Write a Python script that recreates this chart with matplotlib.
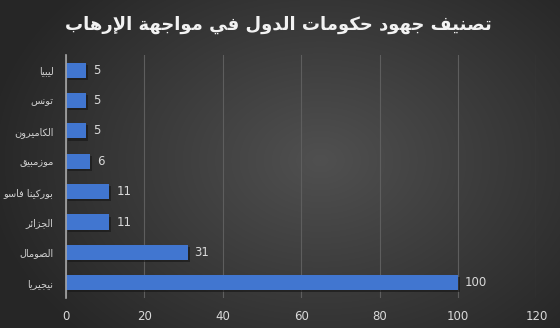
import numpy as np
import matplotlib
matplotlib.use("Agg")
import matplotlib.pyplot as plt
import matplotlib.patheffects as pe

# data, top to bottom as in the picture
countries = ["ليبيا", "تونس", "الكاميرون", "موزمبيق", "بوركينا فاسو", "الجزائر", "الصومال", "نيجيريا"]
scores = [5, 5, 5, 6, 11, 11, 31, 100]
title = "تصنيف جهود حكومات الدول في مواجهة الإرهاب"
xticks = [0, 20, 40, 60, 80, 100, 120]

# matplotlib has no arabic shaping, so pick presentation forms by hand
DUAL = {'ئ': 0xFE89, 'ب': 0xFE8F, 'ت': 0xFE95, 'ث': 0xFE99, 'ج': 0xFE9D, 'ح': 0xFEA1,
        'خ': 0xFEA5, 'س': 0xFEB1, 'ش': 0xFEB5, 'ص': 0xFEB9, 'ض': 0xFEBD, 'ط': 0xFEC1,
        'ظ': 0xFEC5, 'ع': 0xFEC9, 'غ': 0xFECD, 'ف': 0xFED1, 'ق': 0xFED5, 'ك': 0xFED9,
        'ل': 0xFEDD, 'م': 0xFEE1, 'ن': 0xFEE5, 'ه': 0xFEE9, 'ي': 0xFEF1}
RIGHT = {'آ': 0xFE81, 'أ': 0xFE83, 'ؤ': 0xFE85, 'إ': 0xFE87, 'ا': 0xFE8D, 'ة': 0xFE93,
         'د': 0xFEA9, 'ذ': 0xFEAB, 'ر': 0xFEAD, 'ز': 0xFEAF, 'و': 0xFEED, 'ى': 0xFEEF}
LAMALEF = {'آ': 0xFEF5, 'أ': 0xFEF7, 'إ': 0xFEF9, 'ا': 0xFEFB}


def shape(text):
    units = []
    i = 0
    while i < len(text):
        c = text[i]
        if c == 'ل' and i + 1 < len(text) and text[i + 1] in LAMALEF:
            units.append((LAMALEF[text[i + 1]], 'R'))
            i += 2
            continue
        if c in DUAL:
            units.append((DUAL[c], 'D'))
        elif c in RIGHT:
            units.append((RIGHT[c], 'R'))
        else:
            units.append((c, None))
        i += 1
    out = []
    for k, (b, kind) in enumerate(units):
        if kind is None:
            out.append(b)
            continue
        prev = k > 0 and units[k - 1][1] == 'D'
        nxt = kind == 'D' and k + 1 < len(units) and units[k + 1][1] is not None
        if nxt:
            off = 3 if prev else 2
        else:
            off = 1 if prev else 0
        out.append(chr(b + off))
    return ''.join(out[::-1])


fig = plt.figure(figsize=(5.6, 3.28), dpi=100)

# radial grey background
bg = fig.add_axes([0, 0, 1, 1], zorder=-5)
yy, xx = np.mgrid[0:328, 0:560]
r = np.sqrt(((xx - 320) / 340.0) ** 2 + ((yy - 160) / 250.0) ** 2)
shade = (0x50 - (0x50 - 0x26) * np.clip(r, 0, 1)) / 255.0
bg.imshow(np.dstack([shade, shade, shade]), aspect="auto", extent=[0, 1, 0, 1])
bg.axis("off")

ax = fig.add_axes([0.118, 0.0915, 0.840, 0.741])
ax.set_facecolor("none")

ypos = np.arange(len(countries))[::-1]
bars = ax.barh(ypos, scores, height=0.5, color="#4176D0", zorder=3)
for b in bars:
    b.set_path_effects([pe.SimplePatchShadow(offset=(1.5, -1.5), shadow_rgbFace="#151515", alpha=0.6),
                        pe.Normal()])

for y, v in zip(ypos, scores):
    ax.text(v + 1.8, y, str(v), va="center", ha="left", color="#d9d9d9", fontsize=8.5)

ax.set_xlim(0, 120)
ax.set_ylim(-0.5, len(countries) - 0.5)
ax.set_xticks(xticks)
ax.set_yticks(ypos)
ax.set_yticklabels([shape(c) for c in countries], family="DejaVu Sans")
ax.tick_params(axis="x", length=0, colors="#d9d9d9", labelsize=8.5, pad=9)
ax.tick_params(axis="y", length=0, colors="#d0d0d0", labelsize=7, pad=9)
ax.grid(axis="x", color="#5e5e5e", linewidth=0.8, zorder=0)
for s in ["top", "right", "bottom"]:
    ax.spines[s].set_visible(False)
ax.spines["left"].set_color("#a6a6a6")
ax.spines["left"].set_linewidth(1.2)
ax.spines["left"].set_zorder(4)

fig.text(0.497, 0.925, shape(title), ha="center", va="center", color="#f2f2f2",
         fontsize=13, fontweight="bold", family="DejaVu Sans")

fig.savefig("out.png", dpi=100)
